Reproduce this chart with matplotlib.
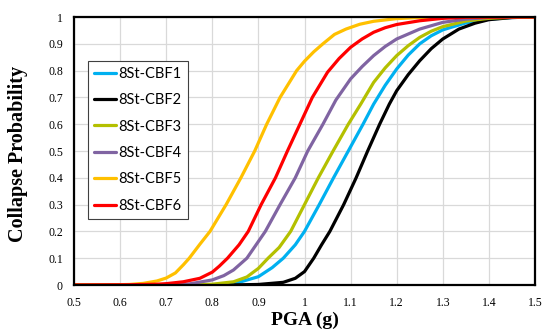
import matplotlib
matplotlib.use("Agg")
import matplotlib.pyplot as plt

# ---- data (PGA in g, collapse probability) ----
cbf1_pga = [0.5, 0.8, 0.85, 0.9, 0.93, 0.954, 0.98, 1.0, 1.032, 1.063, 1.095, 1.127, 1.15, 1.175, 1.2, 1.225, 1.25, 1.275, 1.3, 1.35, 1.4, 1.45, 1.5]
cbf1_p   = [0, 0.001, 0.006, 0.031, 0.065, 0.1, 0.15, 0.2, 0.3, 0.4, 0.5, 0.6, 0.675, 0.745, 0.806, 0.858, 0.9, 0.93, 0.952, 0.978, 0.992, 0.998, 1.0]

cbf2_pga = [0.5, 0.85, 0.9, 0.954, 0.98, 1.0, 1.02, 1.037, 1.055, 1.085, 1.112, 1.137, 1.163, 1.184, 1.2, 1.225, 1.25, 1.275, 1.3, 1.335, 1.37, 1.4, 1.45, 1.5]
cbf2_p   = [0, 0.0005, 0.002, 0.01, 0.025, 0.05, 0.1, 0.15, 0.2, 0.3, 0.4, 0.5, 0.6, 0.675, 0.725, 0.785, 0.837, 0.882, 0.918, 0.955, 0.977, 0.99, 0.998, 1.0]

cbf3_pga = [0.5, 0.75, 0.8, 0.846, 0.875, 0.9, 0.921, 0.945, 0.97, 1.0, 1.03, 1.062, 1.095, 1.122, 1.15, 1.175, 1.2, 1.225, 1.25, 1.275, 1.3, 1.35, 1.4, 1.45, 1.5]
cbf3_p   = [0, 0.001, 0.003, 0.012, 0.03, 0.062, 0.1, 0.14, 0.2, 0.3, 0.4, 0.5, 0.6, 0.675, 0.756, 0.81, 0.856, 0.893, 0.924, 0.947, 0.964, 0.985, 0.995, 0.999, 1.0]

cbf4_pga = [0.5, 0.7, 0.75, 0.8, 0.825, 0.846, 0.875, 0.915, 0.947, 0.98, 1.007, 1.04, 1.068, 1.1, 1.125, 1.15, 1.175, 1.2, 1.25, 1.3, 1.35, 1.4, 1.5]
cbf4_p   = [0, 0.001, 0.004, 0.019, 0.035, 0.056, 0.1, 0.2, 0.3, 0.4, 0.5, 0.6, 0.69, 0.769, 0.815, 0.856, 0.89, 0.918, 0.955, 0.98, 0.992, 0.998, 1.0]

cbf5_pga = [0.5, 0.58, 0.62, 0.65, 0.68, 0.7, 0.72, 0.737, 0.75, 0.773, 0.795, 0.83, 0.862, 0.892, 0.918, 0.947, 0.983, 1.0, 1.02, 1.04, 1.065, 1.09, 1.12, 1.15, 1.2, 1.25, 1.3, 1.5]
cbf5_p   = [0, 0.0005, 0.002, 0.006, 0.015, 0.026, 0.045, 0.075, 0.1, 0.152, 0.2, 0.3, 0.4, 0.5, 0.6, 0.7, 0.8, 0.835, 0.87, 0.9, 0.935, 0.955, 0.973, 0.984, 0.994, 0.998, 1.0, 1.0]

cbf6_pga = [0.5, 0.62, 0.68, 0.7, 0.737, 0.773, 0.8, 0.815, 0.833, 0.858, 0.878, 0.906, 0.937, 0.963, 0.99, 1.017, 1.05, 1.075, 1.1, 1.125, 1.15, 1.175, 1.2, 1.25, 1.3, 1.35, 1.5]
cbf6_p   = [0, 0.001, 0.003, 0.005, 0.012, 0.025, 0.048, 0.07, 0.1, 0.15, 0.2, 0.3, 0.4, 0.5, 0.6, 0.7, 0.794, 0.845, 0.887, 0.918, 0.943, 0.96, 0.972, 0.986, 0.995, 0.999, 1.0]

labels = ["8St-CBF1", "8St-CBF2", "8St-CBF3", "8St-CBF4", "8St-CBF5", "8St-CBF6"]
colors = ["#00B0F0", "#000000", "#B4C000", "#8064A2", "#FFC000", "#FF0000"]

x_ticks = [0.5, 0.6, 0.7, 0.8, 0.9, 1.0, 1.1, 1.2, 1.3, 1.4, 1.5]
x_tick_labels = ["0.5", "0.6", "0.7", "0.8", "0.9", "1", "1.1", "1.2", "1.3", "1.4", "1.5"]
y_ticks = [0, 0.1, 0.2, 0.3, 0.4, 0.5, 0.6, 0.7, 0.8, 0.9, 1.0]
y_tick_labels = ["0", "0.1", "0.2", "0.3", "0.4", "0.5", "0.6", "0.7", "0.8", "0.9", "1"]

series = [(cbf1_pga, cbf1_p), (cbf2_pga, cbf2_p), (cbf3_pga, cbf3_p),
          (cbf4_pga, cbf4_p), (cbf5_pga, cbf5_p), (cbf6_pga, cbf6_p)]

fig = plt.figure(figsize=(5.44, 3.31), dpi=100)
ax = fig.add_axes([74/544, 1-285/331, (535-74)/544, (285-17)/331])

for (xs, ys), lab, col in zip(series, labels, colors):
    ax.plot(xs, ys, color=col, lw=2.3, label=lab, solid_capstyle="round", solid_joinstyle="round")

ax.set_xlim(0.5, 1.5)
ax.set_ylim(0, 1)
ax.set_xticks(x_ticks)
ax.set_xticklabels(x_tick_labels, family="Liberation Serif", fontsize=8.5)
ax.set_yticks(y_ticks)
ax.set_yticklabels(y_tick_labels, family="Liberation Serif", fontsize=8.5)
ax.tick_params(axis="y", length=0, pad=8)
ax.tick_params(axis="x", length=0, pad=9)
ax.grid(True, color="#D9D9D9", lw=0.9)
ax.set_axisbelow(True)
for s in ax.spines.values():
    s.set_linewidth(1.6)
    s.set_color("#000000")

ax.set_xlabel("PGA (g)", family="Liberation Serif", fontweight="bold", fontsize=14)
ax.set_ylabel("Collapse Probability", family="Liberation Serif", fontweight="bold", fontsize=14.5)
ax.xaxis.set_label_coords(0.5, -0.1)
ax.yaxis.set_label_coords(-0.10, 0.49)

leg = ax.legend(loc="upper left", bbox_to_anchor=(0.03, 0.836), frameon=True, fancybox=False,
                edgecolor="#404040", framealpha=1, prop={"family": "Lato", "size": 10.5},
                handlelength=1.55, handletextpad=0.15, labelspacing=0.85, borderpad=0.4,
                borderaxespad=0)
leg.get_frame().set_linewidth(0.8)
for h in leg.get_lines():
    h.set_linewidth(2.3)

fig.savefig("out.png", dpi=100)
